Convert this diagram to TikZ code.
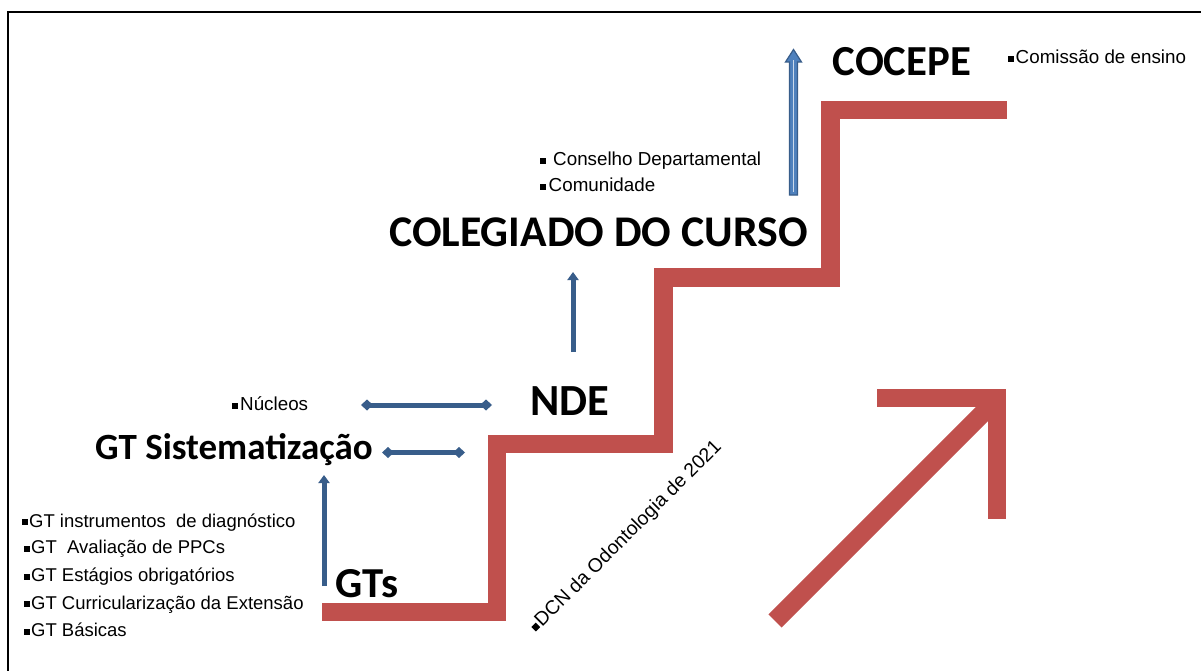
\documentclass[tikz,border=0pt]{standalone}
\usepackage{fontspec}
\setmainfont{Liberation Sans}
\newfontfamily\calibri{Carlito}
\usetikzlibrary{arrows.meta}
\definecolor{stairred}{RGB}{192,80,77}
\definecolor{arrowblue}{RGB}{56,93,138}
\definecolor{fillblue}{RGB}{79,129,189}
\newcommand{\sqb}{\rule[0.1em]{0.32em}{0.32em}}
\newcommand{\bigfs}[1]{\calibri\bfseries\fontsize{#1}{#1}\selectfont}
\begin{document}
\begin{tikzpicture}[x=1pt,y=-1pt,
 big/.style={inner sep=0, anchor=base west},
 small/.style={font=\fontsize{18.8}{22}\selectfont, inner sep=0, anchor=base west},
 listtext/.style={font=\fontsize{18.5}{22}\selectfont, inner sep=0, anchor=base west},
 stair/.style={draw=stairred, line width=18.5pt, line join=miter, line cap=butt},
 bluetwo/.style={draw=arrowblue, line width=5pt, {Diamond[length=12pt,width=11pt]}-{Diamond[length=12pt,width=11pt]}},
 blueone/.style={draw=arrowblue, line width=5pt, -{Triangle[length=8pt,width=11pt]}},
]
\useasboundingbox (0,0) rectangle (1201,671);
\fill[white] (0,0) rectangle (1201,671);
\draw[line width=2pt] (8,671) -- (8,12) -- (1201,12);

% staircase
\draw[stair] (322,612) -- (497,612) -- (497,444) -- (663.5,444) -- (663.5,277.5) -- (830.5,277.5) -- (830.5,110) -- (1007,110);
% big red arrow
\draw[stair] (877,398) -- (997,398) -- (997,519);
\draw[stair] (775,621) -- (997.5,398.5);

% big labels
\node[big, font=\bigfs{42.8}] (cocepe) at (832.5,75.7) {COCEPE};
\node[big, font=\bigfs{43.8}] (colegiado) at (389,246) {COLEGIADO DO CURSO};
\node[big, font=\bigfs{44.5}] (nde) at (530,415) {NDE};
\node[big, font=\bigfs{37}] (gtsist) at (95,459) {GT Sistematização};
\node[big, font=\bigfs{42.7}] (gts) at (335.5,597) {GTs};

% small labels
\node[small] (comissao) at (1008,63.5) {\sqb\hspace{1.5pt}Comissão de ensino};
\node[small] (conselho) at (540,166) {\sqb\hspace{7pt}Conselho Departamental};
\node[small] (comunidade) at (540,191.5) {\sqb\hspace{2.5pt}Comunidade};
\node[small] (nucleos) at (232,410.5) {\sqb\hspace{2pt}Núcleos};
\node[listtext] (l1) at (22,527) {\sqb\hspace{1pt}GT instrumentos~ de diagnóstico};
\node[listtext] (l2) at (24,553.5) {\sqb\hspace{1pt}GT~ Avaliação de PPCs};
\node[listtext] (l3) at (24,581.5) {\sqb\hspace{1pt}GT Estágios obrigatórios};
\node[listtext] (l4) at (24,609) {\sqb\hspace{1pt}GT Curricularização da Extensão};
\node[listtext] (l5) at (24,636.5) {\sqb\hspace{1pt}GT Básicas};
\node[small, font=\fontsize{19.4}{22}\selectfont, rotate=45] (dcn) at (537,633) {\sqb\hspace{1pt}DCN da Odontologia de 2021};

% blue connectors
\coordinate (nucA) at (361,405);
\coordinate (nucB) at (492,405);
\coordinate (sisA) at (382,452.5);
\coordinate (sisB) at (465,452.5);
\coordinate (gtsA) at (324,586);
\coordinate (gtsB) at (324,475);
\coordinate (ndeA) at (573,352);
\coordinate (ndeB) at (573,272);
\draw[bluetwo] (nucA) -- (nucB);
\draw[bluetwo] (sisA) -- (sisB);
\draw[blueone] (gtsA) -- (gtsB);
\draw[blueone] (ndeA) -- (ndeB);
% hollow block arrow to COCEPE
\draw[draw=arrowblue, fill=fillblue, line width=1.2pt, line join=miter]
  (789.5,195) -- (789.5,62) -- (785.5,62) -- (793.5,49.5) -- (801.5,62) -- (797.5,62) -- (797.5,195) -- cycle;
\draw[white!70!fillblue, line width=1.2pt] (793.5,192) -- (793.5,60);
\end{tikzpicture}
\end{document}
